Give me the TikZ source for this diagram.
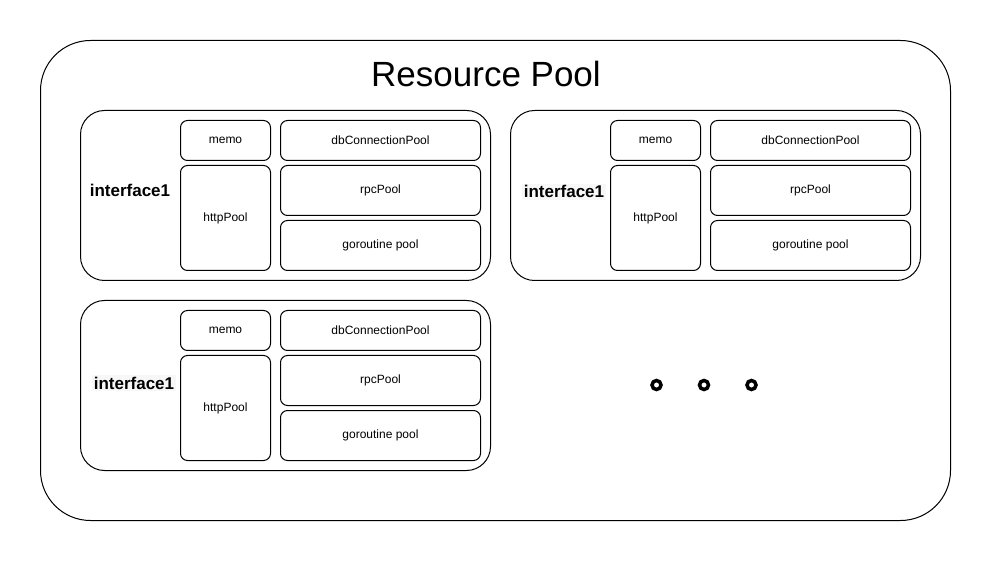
\documentclass[tikz,border=0pt]{standalone}
\usepackage{fontspec}
\setmainfont{Liberation Sans}
\usetikzlibrary{positioning}

\begin{document}
\begin{tikzpicture}[x=1pt, y=-1pt, line width=1pt,
    box/.style={draw, rounded corners=7pt, inner sep=0pt, anchor=north west,
      font=\fontsize{12}{14}\selectfont},
    group/.style={draw, rounded corners=24pt, inner sep=0pt, anchor=north west,
      minimum width=410pt, minimum height=170pt},
    ifname/.style={anchor=base, inner sep=1.5pt, font=\fontsize{17}{20}\selectfont\bfseries},
    dot/.style={circle, draw, line width=3.5pt, minimum size=9pt, inner sep=0pt}]

    \useasboundingbox (0,0) rectangle (991,561);

    \node[draw, rounded corners=50pt, anchor=north west, minimum width=910pt,
          minimum height=480pt] (pool) at (40,40) {};
    \node[anchor=base, font=\fontsize{35}{40}\selectfont] (title) at (486,87) {Resource Pool};

    \foreach \gx/\gy/\lx/\ly/\bg/\n in {0/0/130/197/white/a, 430/0/564/198/black!3/b, 0/190/134/389/black!3/c} {
        \node[group] (grp\n) at ({\gx+80},{\gy+110}) {};
        \node[ifname, fill=\bg] (if\n) at (\lx,\ly) {interface1};
        \node[box, minimum width=90pt, minimum height=40pt] (memo\n) at ({\gx+180},{\gy+120}) {memo};
        \node[box, minimum width=90pt, minimum height=105pt] (http\n) at ({\gx+180},{\gy+165}) {httpPool};
        \node[box, minimum width=200pt, minimum height=40pt] (db\n) at ({\gx+280},{\gy+120}) {dbConnectionPool};
        \node[box, minimum width=200pt, minimum height=50pt] (rpc\n) at ({\gx+280},{\gy+165}) {rpcPool};
        \node[box, minimum width=200pt, minimum height=50pt] (go\n) at ({\gx+280},{\gy+220}) {goroutine pool};
    }

    \node[dot] (dot1) at (656.5,385) {};
    \node[dot] (dot2) at (704,385) {};
    \node[dot] (dot3) at (751.5,385) {};

\end{tikzpicture}
\end{document}
